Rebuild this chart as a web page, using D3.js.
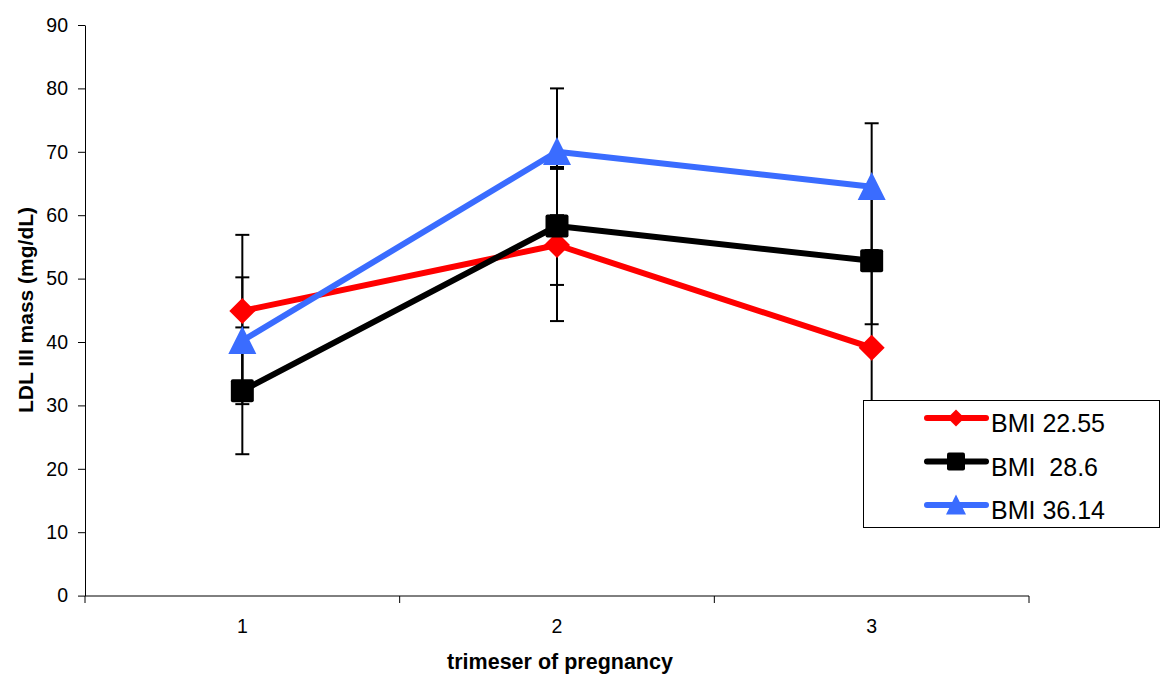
<!DOCTYPE html>
<html><head><meta charset="utf-8">
<script src="https://cdn.jsdelivr.net/npm/d3@7"></script>
<style>body{margin:0;background:#fff}svg{display:block}text{font-family:"Liberation Sans",Arial,sans-serif}</style>
</head><body>
<script>
const categories = ["1","2","3"];
const yTicks = [0,10,20,30,40,50,60,70,80,90];
const seriesNames = ["BMI 22.55","BMI  28.6","BMI 36.14"];
const redValues = [44.9, 55.3, 39.1];
const blackValues = [32.3, 58.3, 52.8];
const blueValues = [40.2, 70.0, 64.5];
const redErr = [12, 12, 12.5];
const blackErr = [10, 9.3, 10];
const blueErr = [10, 10, 10];

const W = 1162, H = 675;
const svg = d3.select("body").append("svg").attr("width", W).attr("height", H);
const x = d3.scaleBand().domain(categories).range([85, 1029]);
const y = d3.scaleLinear().domain([0, 90]).range([595.6, 25]);

const series = [
  {name: seriesNames[0], values: redValues, err: redErr, color: "#ff0000", shape: "diamond"},
  {name: seriesNames[1], values: blackValues, err: blackErr, color: "#000000", shape: "square"},
  {name: seriesNames[2], values: blueValues, err: blueErr, color: "#3a6cff", shape: "triangle"}
];

// axes
const yAxis = svg.append("g").attr("transform", "translate(85,0)")
  .call(d3.axisLeft(y).tickValues(yTicks).tickSize(7).tickPadding(10).tickSizeOuter(0));
yAxis.selectAll("text").attr("font-size", 19.5).attr("fill", "#000");
yAxis.selectAll("line, path").attr("stroke", "#000");

const xAxis = svg.append("g").attr("transform", "translate(0,596)")
  .call(d3.axisBottom(x).tickSize(0));
xAxis.selectAll("text").attr("font-size", 19.5).attr("fill", "#000").attr("y", 37).attr("dy", 0);
xAxis.select("path").attr("d", "M85,0H1029").attr("stroke", "#000");
const xBoundaries = [0,1,2,3].map(i => 85 + i * x.step());
xAxis.selectAll(".bound").data(xBoundaries).enter().append("line")
  .attr("x1", d => d).attr("x2", d => d).attr("y1", 0).attr("y2", 7).attr("stroke", "#000");

svg.append("text").attr("x", 560).attr("y", 669).attr("text-anchor", "middle")
  .attr("font-size", 21.5).attr("font-weight", "bold").text("trimeser of pregnancy");
svg.append("text").attr("transform", "translate(33,310) rotate(-90)").attr("text-anchor", "middle")
  .attr("font-size", 21).attr("font-weight", "bold").text("LDL III mass (mg/dL)");

const cx = c => x(c) + x.bandwidth() / 2;

// error bars
series.forEach(s => {
  const g = svg.append("g");
  categories.forEach((c, i) => {
    const hi = y(s.values[i] + s.err[i]), lo = y(s.values[i] - s.err[i]);
    g.append("line").attr("x1", cx(c)).attr("x2", cx(c)).attr("y1", hi).attr("y2", lo).attr("stroke", "#000").attr("stroke-width", 2);
    [hi, lo].forEach(yy => g.append("line").attr("x1", cx(c) - 7).attr("x2", cx(c) + 7).attr("y1", yy).attr("y2", yy).attr("stroke", "#000").attr("stroke-width", 2));
  });
});

const line = d3.line().x((d, i) => cx(categories[i])).y(d => y(d));
series.forEach(s => {
  svg.append("path").attr("d", line(s.values)).attr("fill", "none").attr("stroke", s.color)
    .attr("stroke-width", 6).attr("stroke-linejoin", "round");
});

function marker(g, shape, px, py, sz, color) {
  if (shape === "diamond") {
    g.append("path").attr("d", `M${px},${py - sz}L${px + sz},${py}L${px},${py + sz}L${px - sz},${py}Z`).attr("fill", color);
  } else if (shape === "square") {
    g.append("rect").attr("x", px - sz).attr("y", py - sz).attr("width", 2 * sz).attr("height", 2 * sz).attr("rx", 2).attr("fill", color);
  } else {
    g.append("path").attr("d", `M${px},${py - sz * 1.05}L${px + sz},${py + sz * 0.95}L${px - sz},${py + sz * 0.95}Z`).attr("fill", color);
  }
}
const sizes = {diamond: 13, square: 11.5, triangle: 14};
series.forEach(s => {
  const g = svg.append("g");
  categories.forEach((c, i) => marker(g, s.shape, cx(c), y(s.values[i]), sizes[s.shape], s.color));
});

// legend
const lg = svg.append("g");
lg.append("rect").attr("x", 863.5).attr("y", 400.5).attr("width", 296).attr("height", 127).attr("fill", "#fff").attr("stroke", "#000").attr("stroke-width", 1);
const lsizes = {diamond: 8.5, square: 9, triangle: 10};
series.forEach((s, i) => {
  const ly = 418 + i * 43.5;
  lg.append("line").attr("x1", 927).attr("x2", 986).attr("y1", ly).attr("y2", ly).attr("stroke", s.color).attr("stroke-width", 6).attr("stroke-linecap", "round");
  marker(lg, s.shape, 956, ly, lsizes[s.shape], s.color);
  lg.append("text").attr("x", 991).attr("y", ly + 14).attr("font-size", 25).attr("xml:space", "preserve").style("white-space", "pre").text(s.name);
});
</script>
</body></html>
